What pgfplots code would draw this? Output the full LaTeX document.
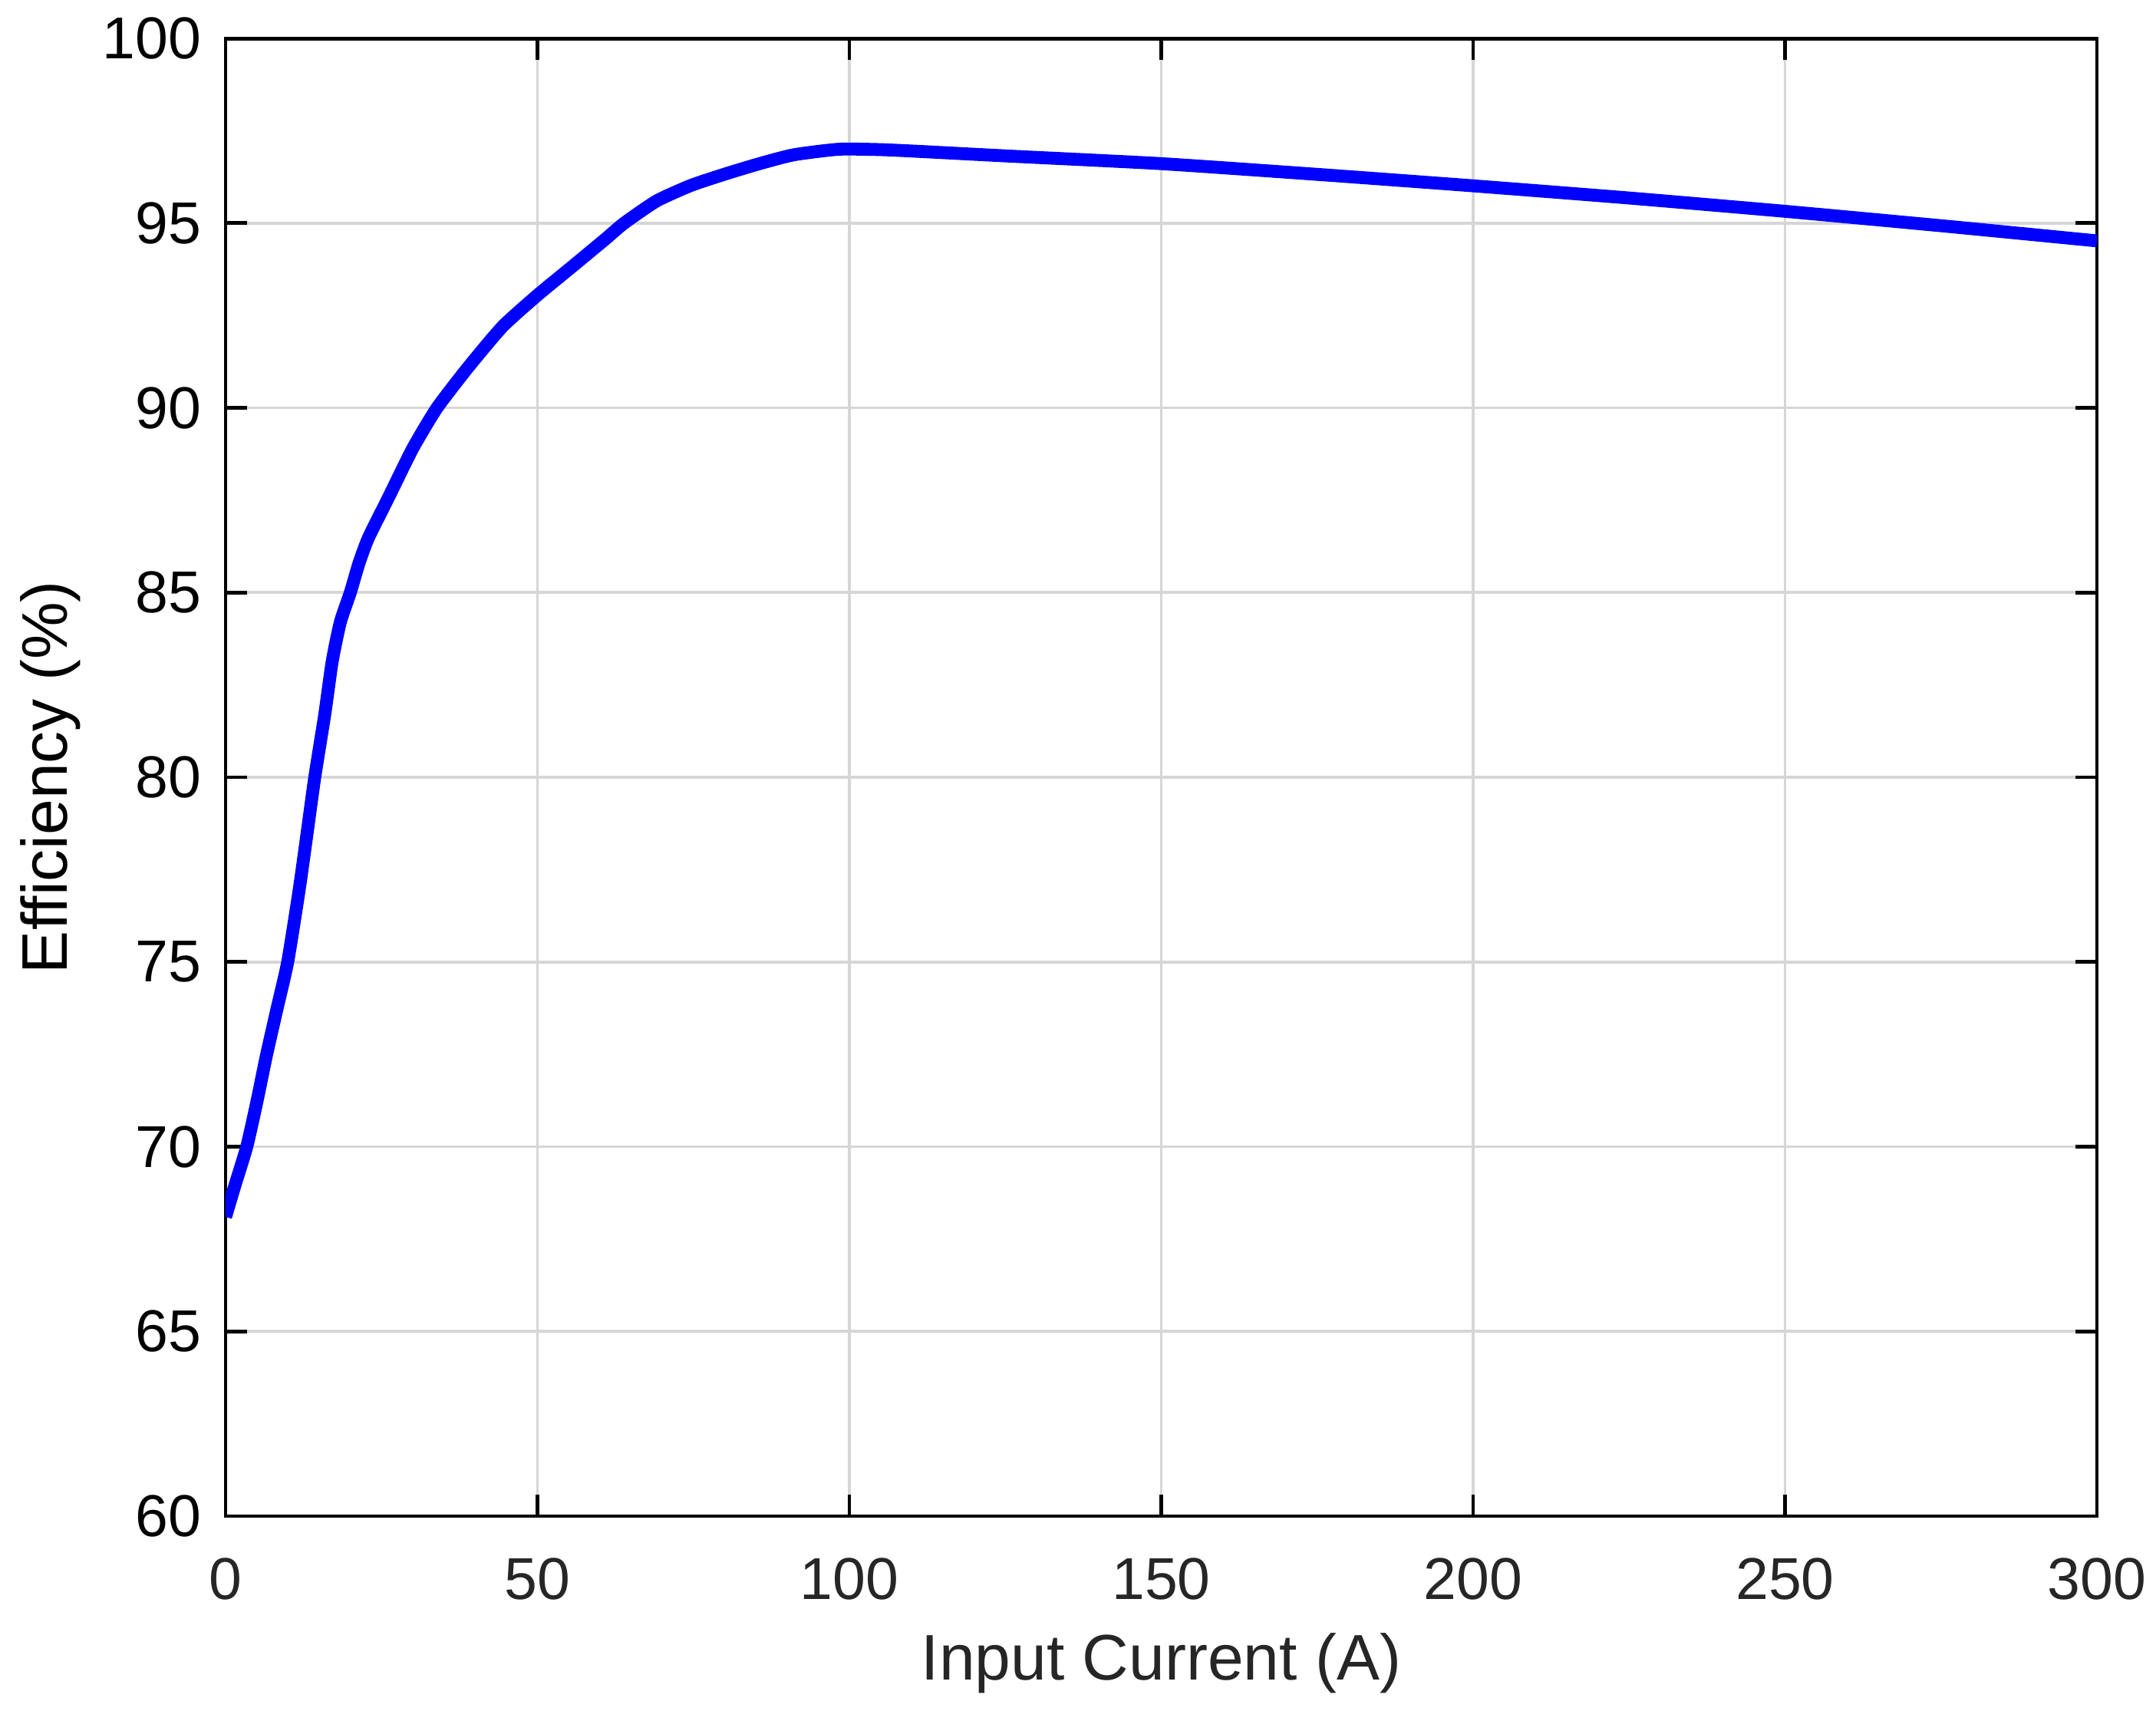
\documentclass[border=0pt]{standalone}
\usepackage{fontspec}
\setmainfont{Liberation Sans}
\usepackage{pgfplots}
\pgfplotsset{compat=1.18}
\definecolor{axgray}{gray}{0.15}
\definecolor{gridgray}{RGB}{214,214,214}
\begin{document}
\begin{tikzpicture}
\begin{axis}[
  at={(0,0)}, anchor=south west,
  scale only axis, width=348.43pt, height=275.14pt,
  xmin=0, xmax=300, ymin=60, ymax=100,
  xtick={0,50,...,300}, ytick={60,65,...,100},
  tick align=inside, major tick length=4pt,
  grid=major, major grid style={draw=gridgray, line width=0.55pt},
  axis line style={line width=0.7pt, draw=black},
  every tick/.style={line width=0.7pt, black},
  tick label style={font=\fontsize{11}{13}\selectfont},
  xticklabel style={text=axgray, yshift=-4.3pt},
  yticklabel style={text=black, xshift=-1pt},
  /pgf/number format/assume math mode=true,
  label style={font=\fontsize{12}{14}\selectfont},
  xlabel={Input Current (A)}, ylabel={Efficiency (\%)},
  xlabel style={at={(axis description cs:0.5,-0.0996)}, anchor=center, text=axgray},
  ylabel style={at={(axis description cs:-0.0936,0.5)}, anchor=center, rotate=0},
]
\addplot[color={rgb,255:red,0;green,0;blue,255}, line width=2.4pt, line join=round, smooth, tension=0.35] coordinates {
(0,68.1) (1.5,68.95) (3.4,70.0) (5,71.2) (6.5,72.43) (8.2,73.7) (9.96,75.0) (11.8,76.95)
(13,78.4) (14.3,80.0) (15.9,81.7) (17.1,83.14) (18.4,84.2) (20,85.0) (21.4,85.8) (22.9,86.48)
(26.2,87.6) (30,88.9) (33.9,90.0) (38.9,91.1) (44.4,92.2) (50,93.05) (55.4,93.8)
(60.9,94.57) (63.9,95.0) (69.1,95.6) (74.6,96.02) (80.1,96.33) (85.6,96.61) (91.1,96.85)
(98.3,97.0) (104.9,96.99) (111.4,96.94) (125,96.82) (150,96.61) (175,96.32) (200,96.01)
(225,95.68) (250,95.32) (275,94.93) (300,94.52)
};
\end{axis}
\pgfresetboundingbox
\path[use as bounding box] (-42pt,-36.14pt) rectangle (359.43pt,282.29pt);
\end{tikzpicture}
\end{document}
